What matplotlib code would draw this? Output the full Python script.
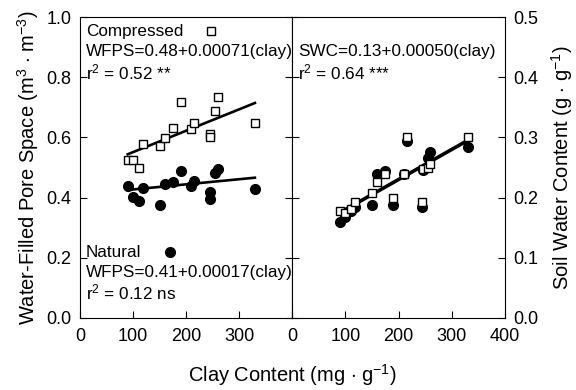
import matplotlib
matplotlib.use('Agg')
import matplotlib.pyplot as plt
import numpy as np

plt.rcParams['font.family'] = ['Liberation Sans', 'DejaVu Sans']
plt.rcParams['mathtext.fontset'] = 'custom'
plt.rcParams['mathtext.rm'] = 'Liberation Sans'
plt.rcParams['mathtext.it'] = 'Liberation Sans'

# clay content of each site (mg/g)
clay = [90, 100, 111, 119, 150, 160, 175, 190, 210, 216, 245, 246, 255, 260, 330]

# water-filled pore space (m3/m3)
wfps_comp = [0.525, 0.525, 0.497, 0.578, 0.572, 0.597, 0.630, 0.719, 0.628,
             0.647, 0.611, 0.600, 0.689, 0.735, 0.647]
wfps_nat = [0.440, 0.403, 0.390, 0.432, 0.375, 0.444, 0.453, 0.489, 0.440,
            0.455, 0.420, 0.394, 0.481, 0.495, 0.427]

# soil water content (g/g)
swc_comp = [0.178, 0.175, 0.181, 0.193, 0.208, 0.226, 0.240, 0.199, 0.240,
            0.301, 0.193, 0.248, 0.250, 0.255, 0.300]
swc_nat = [0.160, 0.168, 0.178, 0.184, 0.188, 0.239, 0.245, 0.188, 0.239,
           0.2945, 0.184, 0.246, 0.266, 0.275, 0.2835]

# fitted lines: intercept, slope
fit_comp = (0.48, 0.00071)
fit_nat = (0.41, 0.00017)
fit_swc = (0.13, 0.00050)

fig = plt.figure(figsize=(5.76, 3.9), dpi=100)
ax1 = fig.add_axes([80/576, 72/390, 212/576, 301/390])
ax2 = fig.add_axes([292/576, 72/390, 213/576, 301/390])

sq = dict(marker='s', ms=5.5, mfc='white', mec='black', mew=1.0, ls='none')
ci = dict(marker='o', ms=7, mfc='black', mec='black', ls='none')

xfit = np.array([min(clay), max(clay)])
tfs = 13   # tick labels
lfs = 14.5 # axis labels
fs = 12.3  # annotations

# left panel
ax1.plot(xfit, fit_comp[0] + fit_comp[1]*xfit, color='black', lw=1.9, zorder=1)
ax1.plot(xfit, fit_nat[0] + fit_nat[1]*xfit, color='black', lw=1.9, zorder=1)
ax1.plot(clay, wfps_comp, **sq, zorder=3)
ax1.plot(clay, wfps_nat, **ci, zorder=3)
ax1.set_xlim(0, 400)
ax1.set_ylim(0, 1.0)
ax1.set_xticks([0, 100, 200, 300])
ax1.set_yticks([0.0, 0.2, 0.4, 0.6, 0.8, 1.0])
ax1.set_yticklabels(['0.0', '0.2', '0.4', '0.6', '0.8', '1.0'])
ax1.tick_params(direction='in', right=True, labelsize=tfs, length=5)
ax1.tick_params(axis='x', pad=7)
ax1.tick_params(axis='y', pad=6)
ax1.set_ylabel('Water-Filled Pore Space (m$^3$ $\\cdot$ m$^{-3}$)', fontsize=lfs, labelpad=4)

ax1.text(11, 0.953, 'Compressed', fontsize=fs, va='center')
ax1.plot([247], [0.953], **sq)
ax1.text(11, 0.884, 'WFPS=0.48+0.00071(clay)', fontsize=fs, va='center')
ax1.text(11, 0.817, 'r$^2$ = 0.52 **', fontsize=fs, va='center')
ax1.text(11, 0.217, 'Natural', fontsize=fs, va='center')
ax1.plot([170], [0.219], **ci)
ax1.text(11, 0.151, 'WFPS=0.41+0.00017(clay)', fontsize=fs, va='center')
ax1.text(11, 0.084, 'r$^2$ = 0.12 ns', fontsize=fs, va='center')

# right panel
ax2.plot(xfit, fit_swc[0] + fit_swc[1]*xfit, color='black', lw=2.6, zorder=1)
ax2.plot(clay, swc_comp, **sq, zorder=3)
ax2.plot(clay, swc_nat, **ci, zorder=2)
ax2.set_xlim(0, 400)
ax2.set_ylim(0, 0.5)
ax2.set_xticks([0, 100, 200, 300, 400])
ax2.set_yticks([0.0, 0.1, 0.2, 0.3, 0.4, 0.5])
ax2.set_yticklabels(['0.0', '0.1', '0.2', '0.3', '0.4', '0.5'])
ax2.tick_params(direction='in', left=True, right=True, labelleft=False,
                labelright=True, labelsize=tfs, length=5)
ax2.tick_params(axis='x', pad=7)
ax2.tick_params(axis='y', pad=6)
ax2.yaxis.set_label_position('right')
ax2.set_ylabel('Soil Water Content (g $\\cdot$ g$^{-1}$)', fontsize=lfs, labelpad=8)
ax2.text(11, 0.442, 'SWC=0.13+0.00050(clay)', fontsize=fs, va='center')
ax2.text(11, 0.408, 'r$^2$ = 0.64 ***', fontsize=fs, va='center')

fig.text(292/576, 15/390, 'Clay Content (mg $\\cdot$ g$^{-1}$)', fontsize=lfs,
         ha='center', va='center')

fig.savefig('out.png', dpi=100)
